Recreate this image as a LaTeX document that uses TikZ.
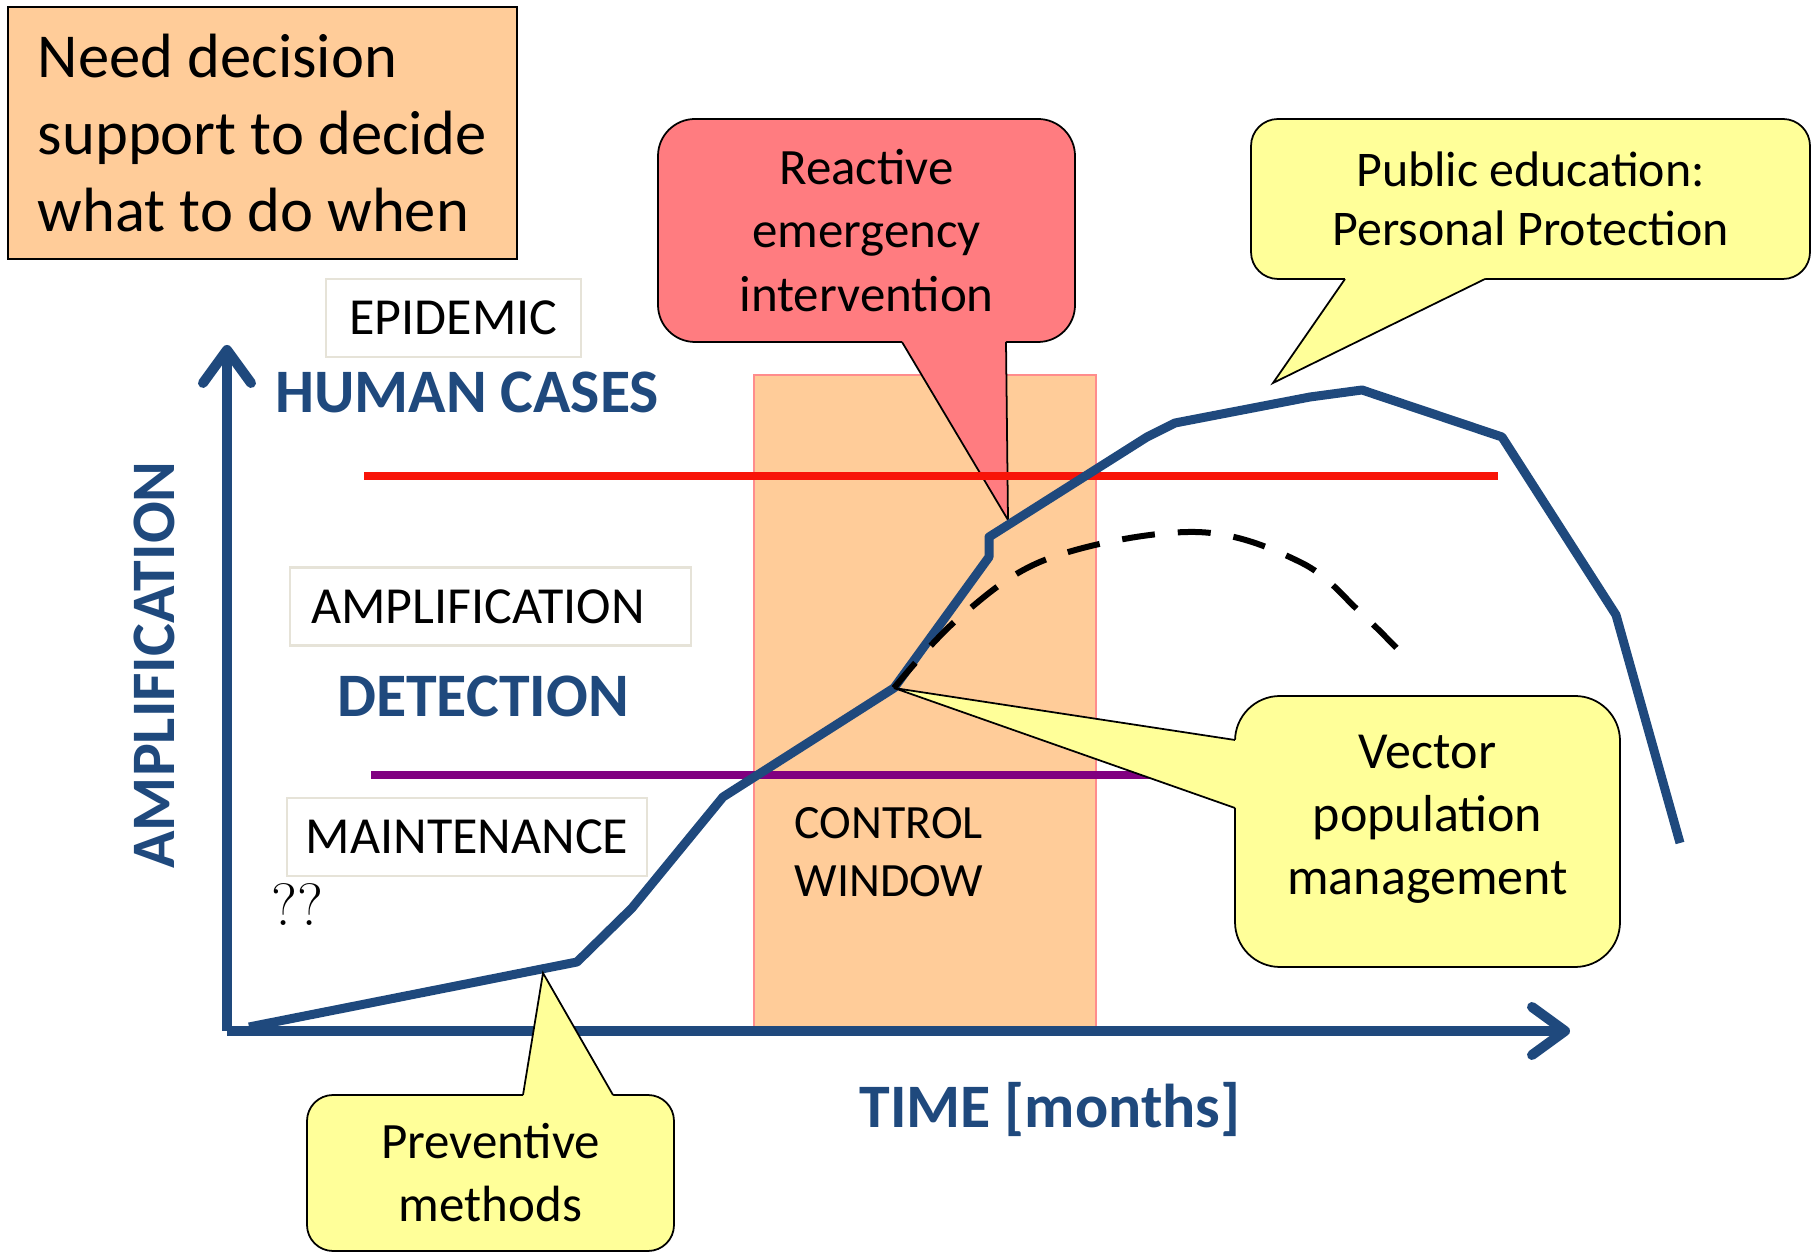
\documentclass[tikz,border=0pt]{standalone}
\usepackage{fontspec}
\newfontfamily\calibri{Carlito}
\usetikzlibrary{arrows.meta,positioning}

\definecolor{navy}{HTML}{1F497D}
\definecolor{peach}{HTML}{FFCC99}
\definecolor{salmon}{HTML}{FF7C80}
\definecolor{lemon}{HTML}{FFFF99}
\definecolor{stone}{HTML}{E6E3D8}
\definecolor{winedge}{HTML}{FF8C8C}
\definecolor{plum}{HTML}{800080}
\definecolor{alarm}{HTML}{F81408}

\begin{document}
\begin{tikzpicture}[every node/.style={font=\calibri},
  phase/.style={draw=stone, line width=0.8pt, fill=white, minimum height=0.78cm, font=\calibri\fontsize{14.8pt}{17pt}\selectfont},
  bigword/.style={text=navy, inner sep=0pt, font=\calibri\bfseries\fontsize{17.6pt}{20pt}\selectfont},
  bubble/.style={draw, line width=0.5pt, align=center, font=\calibri\fontsize{14.5pt}{18pt}\selectfont},
  axisline/.style={navy, line width=0.1cm, -{Straight Barb[length=3.3mm, width=4.8mm, round]}},
  threshold/.style={line width=0.075cm},
  curveline/.style={navy, line width=0.09cm, line join=round}]
\useasboundingbox (0,0) rectangle (18.13,12.53);

% control window behind everything
\draw[fill=peach, draw=winedge, line width=0.5pt] (7.54,2.22) rectangle (10.96,8.78);
\node[anchor=north west, inner sep=0pt, align=left, font=\calibri\fontsize{13.6pt}{16.5pt}\selectfont] (ctrl) at (7.94,4.46) {CONTROL\\WINDOW};

\node[draw, fill=peach, line width=0.7pt, align=left, minimum width=5.09cm, minimum height=2.52cm, font=\calibri\fontsize{17.8pt}{21.9pt}\selectfont] (need) at (2.625,11.20) {Need decision\\support to decide\\what to do when};

% phases
\node[phase, minimum width=2.55cm] (epi) at (4.535,9.35) {EPIDEMIC};
\node[phase, text width=3.59cm, inner xsep=0.21cm, align=left] (amp) at (4.905,6.465) {AMPLIFICATION};
\node[phase, minimum width=3.60cm] (maint) at (4.67,4.16) {MAINTENANCE};
\node[bigword] (human) at (4.67,8.605) {HUMAN CASES};
\node[bigword] (detect) at (4.83,5.565) {DETECTION};
\node[bigword, rotate=90] (ylab) at (1.54,5.88) {AMPLIFICATION};
\node[bigword, anchor=base] (xlab) at (10.50,1.25) {TIME [months]};
\node[font=\rmfamily\fontsize{17pt}{17pt}\selectfont] (qq) at (2.97,3.48) {??};

% curve points
\coordinate (turn) at (8.94,5.65);
\coordinate (hit) at (10.08,7.33);
\coordinate (top) at (12.73,8.70);
\coordinate (low) at (5.43,2.80);

% reactive callout
\node[bubble, fill=salmon, rounded corners=0.37cm, minimum width=4.17cm, minimum height=2.23cm] (react) at (8.665,10.225) {Reactive\\emergency\\intervention};
\coordinate (react-a) at (9.02,9.11);
\coordinate (react-b) at (10.06,9.11);
\fill[salmon] (react-a) -- ++(0,0.05) -| (react-b) -- (hit) -- cycle;
\draw[line width=0.5pt] (react-a) -- (hit) -- (react-b);

\draw[threshold, alarm] (3.64,7.77) -- (14.98,7.77);
\draw[threshold, plum] (3.71,4.78) -- (12.0,4.78);

\draw[curveline] (2.49,2.26) -- (5.77,2.91) -- (6.32,3.45) -- (7.23,4.56) -- (turn) -- (9.89,6.96) -- (9.89,7.16) -- (11.47,8.16) -- (11.75,8.30) -- (13.10,8.56) -- (13.62,8.63) -- (15.02,8.16) -- (16.16,6.38) -- (16.80,4.10);
\draw[line width=0.06cm, dash pattern=on 0.33cm off 0.23cm] plot[smooth, tension=0.6] coordinates {(turn) (9.60,6.36) (10.50,6.95) (11.95,7.21) (13.00,6.91) (13.60,6.41) (14.11,5.90)};

% axes
\coordinate (origin) at (2.27,2.22);
\coordinate (ytop) at (2.27,9.08);
\coordinate (xend) at (15.70,2.22);
\draw[axisline] (origin) -- (ytop);
\draw[axisline] (origin) -- (xend);

% vector callout (empty last line lifts the text a little)
\node[bubble, fill=lemon, rounded corners=0.45cm, minimum width=3.85cm, minimum height=2.71cm, font=\calibri\fontsize{14.8pt}{17.9pt}\selectfont] (vector) at (14.275,4.215) {Vector\\population\\management\\[-0.29cm]\mbox{}};
\coordinate (vector-a) at (12.35,5.13);
\coordinate (vector-b) at (12.35,4.45);
\fill[lemon] (vector-a) -- ++(0.05,0) |- (vector-b) -- (turn) -- cycle;
\draw[line width=0.5pt] (vector-a) -- (turn) -- (vector-b);

% public education callout
\node[bubble, fill=lemon, rounded corners=0.27cm, minimum width=5.59cm, minimum height=1.60cm, font=\calibri\fontsize{14.2pt}{16.8pt}\selectfont] (public) at (15.305,10.54) {Public education:\\Personal Protection};
\coordinate (public-a) at (13.45,9.74);
\coordinate (public-b) at (14.85,9.74);
\fill[lemon] (public-a) -- ++(0,0.05) -| (public-b) -- (top) -- cycle;
\draw[line width=0.5pt] (public-a) -- (top) -- (public-b);

% preventive callout
\node[bubble, fill=lemon, rounded corners=0.26cm, minimum width=3.67cm, minimum height=1.56cm, font=\calibri\fontsize{14.5pt}{17.9pt}\selectfont] (prevent) at (4.905,0.80) {Preventive\\methods};
\coordinate (prevent-a) at (5.23,1.58);
\coordinate (prevent-b) at (6.13,1.58);
\fill[lemon] (prevent-a) -- ++(0,-0.05) -| (prevent-b) -- (low) -- cycle;
\draw[line width=0.5pt] (prevent-a) -- (low) -- (prevent-b);
\end{tikzpicture}
\end{document}
